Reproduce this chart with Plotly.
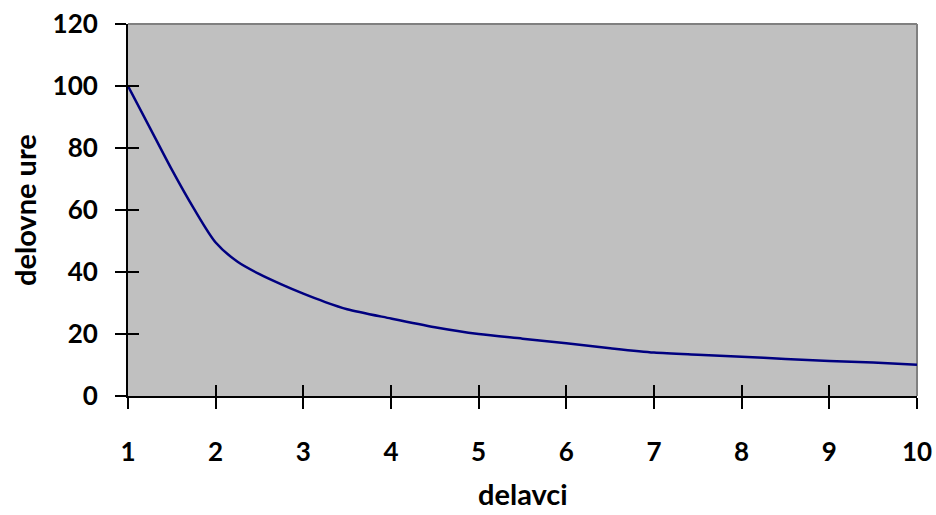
import plotly.graph_objects as go

# Data
x_vals = [1, 1.25, 1.5, 1.75, 2, 2.25, 2.5, 2.75, 3, 3.25, 3.5, 4, 4.5, 5, 5.5, 6, 6.5, 7, 7.5, 8, 8.5, 9, 9.5, 10]
y_vals = [100, 86.5, 73, 60.5, 49.5, 43.3, 39.3, 36, 33, 30.3, 28, 25, 22.2, 20, 18.5, 17, 15.4, 14, 13.3, 12.7, 11.9, 11.3, 10.8, 10.1]
x_ticks = [1, 2, 3, 4, 5, 6, 7, 8, 9, 10]
y_ticks = [0, 20, 40, 60, 80, 100, 120]
x_title = "delavci"
y_title = "delovne ure"

FONT = "Lato"
tick_font = dict(family=FONT, size=26, color="black", weight="bold")
title_font = dict(family=FONT, size=29, color="black", weight="bold")

fig = go.Figure()
fig.add_trace(go.Scatter(
    x=x_vals, y=y_vals, mode="lines",
    line=dict(color="#000080", width=2.5, shape="spline", smoothing=0.8),
    showlegend=False, hoverinfo="skip",
))

fig.update_layout(
    width=936, height=515,
    margin=dict(l=128, r=19, t=24, b=119),
    paper_bgcolor="white",
    plot_bgcolor="#C0C0C0",
    font=dict(family=FONT, color="black"),
    xaxis=dict(
        range=[1, 10], tickvals=x_ticks, ticktext=[str(v) for v in x_ticks],
        showgrid=False, zeroline=False, automargin=False,
        showline=True, linecolor="black", linewidth=2,
        ticks="outside", ticklen=11, tickwidth=2, tickcolor="black",
        tickfont=tick_font, ticklabelstandoff=21,
    ),
    yaxis=dict(
        range=[0, 120], tickvals=y_ticks,
        showgrid=False, zeroline=False, automargin=False,
        showline=True, linecolor="black", linewidth=2,
        ticks="outside", ticklen=11, tickwidth=2, tickcolor="black",
        tickfont=tick_font, ticklabelstandoff=12,
    ),
    xaxis2=dict(
        range=[1, 10], tickvals=x_ticks, overlaying="x", side="bottom",
        showgrid=False, zeroline=False, showline=False, showticklabels=False,
        ticks="inside", ticklen=11, tickwidth=2, tickcolor="black", automargin=False,
    ),
    yaxis2=dict(
        range=[0, 120], tickvals=y_ticks, overlaying="y", side="left",
        showgrid=False, zeroline=False, showline=False, showticklabels=False,
        ticks="inside", ticklen=11, tickwidth=2, tickcolor="black", automargin=False,
    ),
)

# dummy trace to activate overlay axes
fig.add_trace(go.Scatter(x=[None], y=[None], xaxis="x2", yaxis="y2", showlegend=False, hoverinfo="skip"))

# gray border on top and right of plot area
fig.add_shape(type="line", xref="paper", yref="paper", x0=0, x1=1, y0=1, y1=1,
              line=dict(color="#808080", width=2), layer="below")
fig.add_shape(type="line", xref="paper", yref="paper", x0=1, x1=1, y0=0, y1=1,
              line=dict(color="#808080", width=2), layer="below")

# axis titles
fig.add_annotation(text=y_title, xref="paper", yref="paper", x=0, y=0.5,
                   xanchor="center", yanchor="middle", xshift=-104, textangle=-90,
                   showarrow=False, font=title_font)
fig.add_annotation(text=x_title, xref="paper", yref="paper", x=0.5, y=0,
                   xanchor="center", yanchor="bottom", yshift=-117,
                   showarrow=False, font=title_font)

fig.write_html("out.html")
